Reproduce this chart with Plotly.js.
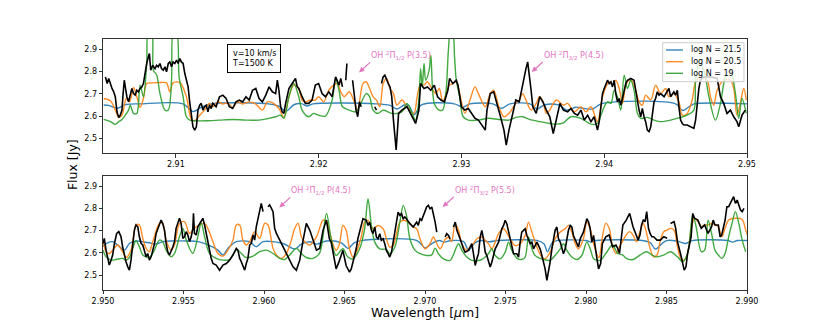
<!DOCTYPE html>
<html>
<head>
<meta charset="utf-8">
<script src="https://cdn.plot.ly/plotly-3.0.1.min.js"></script>
<style>
  html, body { margin: 0; padding: 0; background: #fff; }
  #chart { width: 830px; height: 332px; }
</style>
</head>
<body>
<div id="chart"></div>
<script>
// spectrum.js -- observed flux vs. slab models, two wavelength windows

// ---- top window (2.905 - 2.950 um), [wavelength, flux] ----
const obsTop = [
  [2.90507,2.776],[2.90519,2.746],[2.9053,2.769],[2.90542,2.739],[2.90553,2.724],[2.90565,2.709],[2.90576,2.687],[2.90588,2.619],[2.906,2.594],[2.90611,2.604],
  [2.90623,2.627],[2.9063,2.694],[2.90639,2.761],[2.90648,2.724],[2.90657,2.687],[2.90669,2.664],[2.90681,2.694],[2.90692,2.724],[2.90704,2.701],[2.90715,2.694],
  [2.90727,2.716],[2.90738,2.709],[2.9075,2.724],[2.90762,2.731],[2.90773,2.746],[2.90785,2.806],[2.90796,2.836],[2.90808,2.866],[2.90815,2.881],[2.90824,2.806],
  [2.90838,2.828],[2.90854,2.813],[2.90866,2.828],[2.90877,2.821],[2.90889,2.836],[2.909,2.813],[2.90912,2.806],[2.90924,2.821],[2.90935,2.799],[2.90947,2.836],
  [2.90958,2.843],[2.9097,2.821],[2.90981,2.843],[2.90993,2.836],[2.91005,2.851],[2.91016,2.836],[2.91028,2.858],[2.91039,2.843],[2.91051,2.836],[2.91063,2.791],
  [2.91074,2.761],[2.91086,2.731],[2.91097,2.664],[2.91109,2.612],[2.9112,2.552],[2.91132,2.537],[2.91144,2.552],[2.91155,2.627],[2.91167,2.649],[2.91178,2.657],
  [2.9119,2.627],[2.91201,2.642],[2.91213,2.649],[2.91225,2.619],[2.91236,2.649],[2.91248,2.634],[2.91259,2.657],[2.91282,2.642],[2.91306,2.687],[2.91329,2.694],
  [2.91352,2.679],[2.91375,2.642],[2.91398,2.634],[2.91421,2.664],[2.91444,2.672],[2.91468,2.664],[2.91491,2.687],[2.91514,2.672],[2.91537,2.716],[2.9156,2.724],
  [2.91583,2.679],[2.91606,2.664],[2.9163,2.694],[2.91653,2.731],[2.91676,2.709],[2.91699,2.701],[2.91711,2.761],[2.91722,2.716],[2.91734,2.642],[2.91745,2.619],
  [2.91757,2.612],[2.91769,2.657],[2.91792,2.724],[2.91815,2.746],[2.91838,2.769],[2.9185,2.731],[2.91861,2.724],[2.91884,2.687],[2.91907,2.657],[2.91931,2.657],
  [2.91954,2.672],[2.91977,2.739],[2.92,2.746],[2.92024,2.701],[2.92048,2.687],[2.92071,2.709],[2.92095,2.687],[2.92119,2.776],[2.92143,2.739],[2.92155,2.769],
  [2.92167,2.731],[2.92178,null],[2.9219,2.761],[2.92198,2.836],[2.9221,null],[2.92238,2.761],[2.9225,2.701],[2.92262,2.627],[2.92274,2.597],[2.92286,2.664],
  [2.92298,2.642],[2.9231,null],[2.92393,2.642],[2.92405,2.627],[2.9242,null],[2.9244,2.746],[2.92452,2.776],[2.92464,2.784],[2.92476,2.761],[2.92488,2.746],
  [2.925,2.731],[2.92512,2.687],[2.92524,2.582],[2.92543,2.448],[2.9256,2.612],[2.92583,2.627],[2.92619,2.642],[2.92655,2.597],[2.92679,2.567],[2.92702,2.627],
  [2.92714,2.746],[2.92738,2.724],[2.92762,2.731],[2.92786,2.716],[2.9281,2.739],[2.92833,2.687],[2.92857,2.672],[2.92881,2.664],[2.92905,2.716],[2.92917,2.769],
  [2.9294,2.746],[2.92964,2.761],[2.92976,2.739],[2.93,2.642],[2.93024,2.627],[2.93048,2.634],[2.93071,2.612],[2.93095,2.59],[2.93119,2.582],[2.93143,2.56],
  [2.93167,2.537],[2.93179,2.627],[2.93202,2.701],[2.93226,2.709],[2.9325,2.657],[2.93274,2.597],[2.93298,2.537],[2.93314,2.47],[2.93333,2.537],[2.93357,2.604],
  [2.93381,2.672],[2.93405,2.664],[2.93429,2.746],[2.93452,2.813],[2.93464,2.843],[2.93476,2.791],[2.93488,2.716],[2.935,2.642],[2.93524,2.612],[2.93548,2.687],
  [2.93571,2.664],[2.93595,2.627],[2.93619,2.597],[2.93643,2.522],[2.93667,2.597],[2.9369,2.657],[2.93714,2.627],[2.93744,2.619],[2.93767,2.634],[2.93791,2.612],
  [2.93814,2.604],[2.93837,2.627],[2.9386,2.582],[2.93884,2.604],[2.93907,2.575],[2.9393,2.597],[2.93953,2.537],[2.93965,2.575],[2.93977,2.642],[2.93988,2.701],
  [2.94,2.724],[2.94012,2.746],[2.94023,2.761],[2.94035,2.746],[2.94047,2.754],[2.94058,2.731],[2.9407,2.761],[2.94081,2.701],[2.94093,2.664],[2.94105,2.679],
  [2.94116,2.649],[2.94128,2.679],[2.9414,2.724],[2.94151,2.746],[2.94163,2.761],[2.94186,2.769],[2.94209,2.761],[2.94221,2.716],[2.94233,2.657],[2.94244,2.627],
  [2.94256,2.597],[2.94267,2.634],[2.94279,2.597],[2.9429,2.575],[2.94302,2.537],[2.94314,2.53],[2.94326,2.552],[2.94337,2.612],[2.94349,2.664],[2.9436,2.679],
  [2.94372,2.709],[2.94384,2.694],[2.94395,2.701],[2.94419,2.687],[2.94442,2.709],[2.94453,2.724],[2.94465,2.687],[2.94488,2.709],[2.945,2.694],[2.94512,2.716],
  [2.94523,2.642],[2.94535,2.582],[2.94547,2.567],[2.94558,2.56],[2.94581,2.56],[2.94605,2.552],[2.94628,2.545],[2.9464,2.582],[2.94651,2.657],[2.94663,2.724],
  [2.94674,2.761],[2.94698,2.776],[2.94744,2.776],[2.94791,2.769],[2.94814,2.687],[2.94837,2.657],[2.9486,2.612],[2.94884,2.627],[2.94907,2.597],[2.9493,2.575],
  [2.94942,2.552],[2.94953,2.582],[2.94965,2.604],[2.94988,2.627]
];

const n215Top = [
  [2.90495,2.65],[2.9053,2.648],[2.9059,2.635],[2.9065,2.652],[2.9075,2.655],[2.9105,2.655],[2.9112,2.62],[2.9118,2.64],[2.9125,2.655],[2.9165,2.655],
  [2.9172,2.645],[2.9177,2.622],[2.9183,2.652],[2.9188,2.656],[2.9192,2.645],[2.9196,2.655],[2.924,2.655],[2.925,2.648],[2.9255,2.632],[2.926,2.65],
  [2.9263,2.648],[2.9267,2.607],[2.9272,2.65],[2.9295,2.655],[2.9301,2.64],[2.9306,2.655],[2.9322,2.655],[2.9328,2.635],[2.9334,2.655],[2.9348,2.655],
  [2.9353,2.632],[2.9358,2.65],[2.9368,2.65],[2.9374,2.627],[2.938,2.64],[2.9385,2.635],[2.9392,2.632],[2.9398,2.655],[2.945,2.655],[2.9455,2.625],
  [2.946,2.645],[2.9463,2.655],[2.95,2.655]
];

const n205Top = [
  [2.90495,2.679],[2.90542,2.669],[2.90576,2.627],[2.906,2.594],[2.90623,2.604],[2.90653,2.679],[2.90676,2.664],[2.90704,2.728],[2.90727,2.687],[2.9075,2.639],
  [2.90773,2.679],[2.90796,2.746],[2.90831,2.749],[2.909,2.751],[2.90935,2.749],[2.90958,2.709],[2.90981,2.749],[2.91028,2.751],[2.91074,2.687],[2.91109,2.585],
  [2.91132,2.579],[2.91167,2.604],[2.91201,2.627],[2.91236,2.657],[2.91259,2.642],[2.91294,2.664],[2.91329,2.654],[2.91363,2.66],[2.91398,2.639],[2.91433,2.664],
  [2.91468,2.654],[2.91514,2.664],[2.9156,2.654],[2.91606,2.627],[2.91641,2.664],[2.91676,2.66],[2.91722,2.634],[2.91757,2.594],[2.91792,2.687],[2.91826,2.739],
  [2.91861,2.724],[2.91884,2.672],[2.91907,2.664],[2.91942,2.672],[2.91977,2.672],[2.92,2.687],[2.92036,2.664],[2.92071,2.716],[2.92107,2.739],[2.92131,2.746],
  [2.92155,2.709],[2.92179,2.687],[2.92214,2.709],[2.9225,2.664],[2.92274,2.627],[2.9231,2.746],[2.92333,2.754],[2.92357,2.724],[2.92381,2.687],[2.92405,2.672],
  [2.92429,2.642],[2.92452,2.746],[2.92476,2.769],[2.925,2.724],[2.92524,2.701],[2.92548,2.649],[2.92583,2.672],[2.92619,2.642],[2.92667,2.612],[2.9269,2.687],
  [2.92714,2.746],[2.92738,2.739],[2.92762,2.754],[2.92786,2.731],[2.92821,2.701],[2.92845,2.724],[2.92869,2.664],[2.92893,2.701],[2.92917,2.739],[2.9294,2.746],
  [2.92964,2.754],[2.92988,2.701],[2.93024,2.612],[2.9306,2.672],[2.93095,2.731],[2.93119,2.701],[2.93167,2.642],[2.93202,2.701],[2.93226,2.716],[2.93262,2.642],
  [2.93298,2.597],[2.93333,2.612],[2.93381,2.657],[2.93405,2.672],[2.93429,2.701],[2.93452,2.672],[2.93488,2.627],[2.93524,2.657],[2.93548,2.687],[2.93571,2.664],
  [2.93595,2.612],[2.93619,2.627],[2.93643,2.657],[2.93667,2.672],[2.93714,2.649],[2.93744,2.657],[2.93791,2.619],[2.93837,2.642],[2.93872,2.619],[2.93907,2.642],
  [2.93953,2.575],[2.93988,2.687],[2.94012,2.731],[2.94035,2.754],[2.94058,2.739],[2.94081,2.761],[2.94105,2.724],[2.94128,2.657],[2.94151,2.739],[2.94174,2.761],
  [2.94198,2.754],[2.94221,2.716],[2.94244,2.664],[2.94267,2.649],[2.9429,2.694],[2.94326,2.672],[2.9436,2.739],[2.94395,2.701],[2.9443,2.724],[2.94453,2.687],
  [2.94488,2.701],[2.94523,2.664],[2.94547,2.604],[2.94581,2.612],[2.94616,2.672],[2.9464,2.754],[2.94674,2.776],[2.94721,2.761],[2.94744,2.687],[2.94767,2.649],
  [2.94791,2.716],[2.94837,2.761],[2.94884,2.761],[2.94907,2.724],[2.9493,2.604],[2.94953,2.657],[2.94977,2.724],[2.94995,2.672]
];

const n19Top = [
  [2.90495,2.585],[2.90542,2.575],[2.90576,2.563],[2.906,2.575],[2.90623,2.585],[2.90646,2.604],[2.90669,2.627],[2.90681,2.649],[2.90704,2.612],[2.90727,2.612],
  [2.9075,2.739],[2.90773,2.687],[2.90796,2.836],[2.90808,2.98],[2.90831,2.98],[2.90843,2.806],[2.90866,2.784],[2.90889,2.701],[2.90924,2.627],[2.90947,2.627],
  [2.9097,2.761],[2.90984,2.98],[2.91005,2.98],[2.91023,2.776],[2.91051,2.687],[2.91074,2.597],[2.91097,2.582],[2.91144,2.579],[2.91213,2.579],[2.91306,2.582],
  [2.91398,2.585],[2.91491,2.582],[2.91583,2.582],[2.91653,2.59],[2.91699,2.597],[2.91734,2.604],[2.91757,2.59],[2.91792,2.687],[2.91826,2.746],[2.91861,2.687],
  [2.91884,2.627],[2.91931,2.597],[2.91965,2.612],[2.92,2.604],[2.92048,2.6],[2.92095,2.672],[2.92119,2.769],[2.92143,2.716],[2.92167,2.642],[2.92214,2.627],
  [2.92262,2.619],[2.92286,2.642],[2.92333,2.701],[2.92357,2.687],[2.92381,2.627],[2.92417,2.612],[2.92452,2.627],[2.92512,2.612],[2.92583,2.619],[2.92619,2.657],
  [2.92655,2.612],[2.92679,2.582],[2.92702,2.672],[2.92714,2.813],[2.92726,2.731],[2.92738,2.836],[2.9275,2.761],[2.92774,2.806],[2.92786,2.873],[2.9281,2.657],
  [2.92845,2.627],[2.92869,2.627],[2.92893,2.716],[2.92909,2.896],[2.92924,2.98],[2.92938,2.98],[2.92952,2.866],[2.92964,2.761],[2.92988,2.687],[2.93012,2.597],
  [2.93048,2.582],[2.93119,2.582],[2.9319,2.59],[2.93262,2.585],[2.93333,2.582],[2.93381,2.594],[2.93429,2.597],[2.93476,2.585],[2.93548,2.575],[2.93619,2.567],
  [2.93667,2.564],[2.93714,2.57],[2.93767,2.597],[2.93837,2.59],[2.93907,2.564],[2.93953,2.567],[2.93977,2.604],[2.94,2.642],[2.94023,2.664],[2.94047,2.657],
  [2.9407,2.716],[2.94093,2.687],[2.94116,2.627],[2.9414,2.784],[2.94163,2.724],[2.94186,2.761],[2.94209,2.716],[2.94233,2.612],[2.94256,2.59],[2.94302,2.594],
  [2.94349,2.582],[2.94395,2.575],[2.94465,2.582],[2.94535,2.594],[2.94581,2.604],[2.94628,2.627],[2.9464,2.761],[2.94663,2.836],[2.94698,2.806],[2.94733,2.687],
  [2.94779,2.582],[2.94814,2.657],[2.94849,2.776],[2.94884,2.806],[2.94919,2.701],[2.94942,2.59],[2.94965,2.679],[2.94995,2.612]
];

// ---- bottom window (2.950 - 2.990 um) ----
const obsBot = [
  [2.95,2.642],[2.95008,2.665],[2.95019,2.612],[2.95029,2.575],[2.95039,2.545],[2.9505,2.567],[2.9506,2.59],[2.95071,2.642],[2.95085,2.687],[2.95098,2.695],
  [2.95112,2.672],[2.95122,2.627],[2.95133,2.59],[2.95143,2.56],[2.95154,2.537],[2.95164,2.522],[2.95174,2.567],[2.95185,2.642],[2.95195,2.702],[2.95205,2.725],
  [2.95216,2.717],[2.95226,2.672],[2.95237,2.642],[2.95247,2.635],[2.95257,2.612],[2.95268,2.582],[2.95278,2.597],[2.95288,2.567],[2.95299,2.582],[2.95309,2.612],
  [2.9532,2.642],[2.9533,2.687],[2.95351,2.725],[2.95361,2.747],[2.95371,2.732],[2.95382,2.702],[2.95392,2.642],[2.95402,2.605],[2.95413,2.59],[2.95423,2.605],
  [2.95434,2.627],[2.95444,2.65],[2.95454,2.71],[2.95475,2.755],[2.95485,2.732],[2.95496,2.665],[2.95506,2.672],[2.95517,2.695],[2.95527,2.68],[2.95537,2.65],
  [2.95548,2.672],[2.95558,2.71],[2.95562,2.777],[2.95568,2.687],[2.95579,2.68],[2.95589,2.717],[2.956,2.732],[2.9561,2.747],[2.9562,2.755],[2.95631,2.725],
  [2.95641,2.687],[2.95651,2.642],[2.95662,2.597],[2.95672,2.575],[2.95683,2.552],[2.95703,2.545],[2.95724,2.522],[2.95745,2.545],[2.95766,2.552],[2.95786,2.567],
  [2.95807,2.59],[2.95817,2.605],[2.95828,2.62],[2.95838,2.612],[2.95849,2.575],[2.95859,2.56],[2.95869,2.537],[2.9588,2.522],[2.9589,2.552],[2.959,2.575],
  [2.95911,2.635],[2.95921,2.642],[2.95932,2.68],[2.95942,2.657],[2.95952,2.717],[2.95963,2.755],[2.95973,2.777],[2.95983,2.822],[2.95994,2.785],[2.96005,null],
  [2.96025,2.807],[2.96035,2.815],[2.96046,2.8],[2.96056,2.785],[2.96066,2.71],[2.96077,2.687],[2.96098,2.657],[2.96129,2.612],[2.96149,2.582],[2.9618,2.537],
  [2.96201,2.522],[2.96222,2.567],[2.96243,2.657],[2.96263,2.732],[2.96284,2.702],[2.96305,2.657],[2.96326,2.612],[2.96346,2.62],[2.96367,2.702],[2.96388,2.747],
  [2.96406,2.663],[2.96417,2.648],[2.96427,2.603],[2.96438,2.573],[2.96448,2.528],[2.96465,2.558],[2.96479,2.588],[2.9649,2.611],[2.9651,2.543],[2.96531,2.513],
  [2.96542,2.528],[2.96552,2.558],[2.96563,2.588],[2.96573,2.618],[2.96583,2.663],[2.96594,2.701],[2.96604,2.723],[2.96615,2.753],[2.96635,2.746],[2.96646,2.723],
  [2.96656,2.738],[2.96667,2.701],[2.96677,2.686],[2.96688,2.716],[2.96698,2.671],[2.96708,2.663],[2.96719,2.686],[2.96729,2.656],[2.9674,2.663],[2.9675,2.641],
  [2.9676,2.611],[2.96771,2.596],[2.96781,2.581],[2.96792,2.603],[2.96802,2.648],[2.96813,2.693],[2.96823,2.738],[2.96833,2.783],[2.96844,2.768],[2.96854,2.776],
  [2.96865,2.753],[2.96875,2.761],[2.96885,2.753],[2.96906,2.731],[2.96927,2.716],[2.96948,2.738],[2.96958,2.723],[2.96969,2.753],[2.96979,2.746],[2.9699,2.768],
  [2.97,2.791],[2.9701,2.806],[2.97021,2.813],[2.97031,2.798],[2.97042,2.806],[2.97052,2.776],[2.97063,2.738],[2.97073,2.693],[2.971,null],[2.97125,2.671],
  [2.97135,2.686],[2.97146,2.678],[2.97156,2.663],[2.97166,null],[2.97177,2.716],[2.97188,2.738],[2.97198,2.701],[2.97208,2.678],[2.97218,2.663],[2.97239,2.618],
  [2.97249,2.603],[2.9727,2.611],[2.97291,2.641],[2.97301,2.596],[2.97312,2.543],[2.97322,2.573],[2.97332,2.596],[2.97343,2.671],[2.97353,2.701],[2.97363,2.663],
  [2.97374,2.603],[2.97384,2.588],[2.97394,2.558],[2.97405,2.536],[2.97415,2.558],[2.97436,2.618],[2.97457,2.648],[2.97477,2.708],[2.97488,2.723],[2.97498,2.746],
  [2.97508,2.731],[2.97519,2.693],[2.97529,2.663],[2.97539,2.618],[2.9755,2.596],[2.9757,2.596],[2.97581,2.581],[2.97591,2.648],[2.97601,2.693],[2.97612,2.701],
  [2.97622,2.708],[2.97633,2.678],[2.97643,2.656],[2.97653,2.641],[2.97664,2.648],[2.97674,2.618],[2.97695,2.648],[2.97705,2.633],[2.97715,2.618],[2.97726,2.588],
  [2.97736,2.558],[2.97746,2.528],[2.97757,2.476],[2.97767,2.513],[2.97777,2.558],[2.97788,2.618],[2.97798,2.671],[2.97808,2.701],[2.97819,2.716],[2.97829,2.663],
  [2.9784,2.648],[2.9785,2.618],[2.9786,2.596],[2.97871,2.618],[2.97881,2.656],[2.97891,2.701],[2.97902,2.723],[2.97912,2.716],[2.97922,2.678],[2.97943,2.641],
  [2.97953,2.626],[2.97964,2.663],[2.97984,2.693],[2.98005,2.753],[2.98016,2.738],[2.98026,2.708],[2.98036,2.648],[2.98047,2.678],[2.98057,2.618],[2.98068,2.573],
  [2.98078,2.528],[2.98091,2.552],[2.98102,2.642],[2.98123,2.672],[2.98144,2.68],[2.98165,2.627],[2.98186,2.635],[2.98197,2.62],[2.98208,2.597],[2.98229,2.725],
  [2.9825,2.747],[2.98271,2.777],[2.98292,2.717],[2.98314,2.672],[2.98324,2.657],[2.98335,2.68],[2.98345,2.725],[2.98356,2.747],[2.98367,2.74],[2.98377,2.785],
  [2.98388,2.71],[2.98398,2.687],[2.98409,2.672],[2.9842,2.672],[2.98441,2.657],[2.98462,2.657],[2.98483,2.672],[2.98504,2.665],[2.98515,null],[2.98525,2.732],
  [2.98547,2.74],[2.98557,2.71],[2.98568,2.65],[2.98589,2.59],[2.986,2.56],[2.9861,2.522],[2.98621,2.537],[2.98631,2.597],[2.98653,2.672],[2.98663,2.777],
  [2.98674,2.755],[2.98695,2.747],[2.98716,2.71],[2.98737,2.725],[2.98758,2.687],[2.9878,2.717],[2.9879,2.747],[2.98801,2.725],[2.98822,2.725],[2.98833,2.672],
  [2.98843,2.68],[2.98864,2.747],[2.98875,2.807],[2.98886,2.807],[2.98896,2.822],[2.98907,2.837],[2.98917,2.852],[2.98928,2.822],[2.98939,2.837],[2.98949,2.815],
  [2.9896,2.792],[2.9897,2.785],[2.98981,2.8]
];

const n215Bot = [
  [2.95,2.63],[2.95029,2.645],[2.9506,2.65],[2.95091,2.635],[2.95133,2.612],[2.95164,2.642],[2.95205,2.653],[2.95247,2.65],[2.95288,2.645],[2.9533,2.639],
  [2.95371,2.65],[2.95434,2.653],[2.95537,2.653],[2.95589,2.65],[2.95641,2.639],[2.95714,2.612],[2.95745,2.59],[2.95776,2.62],[2.95828,2.65],[2.95911,2.65],
  [2.95952,2.627],[2.95994,2.65],[2.96118,2.642],[2.96191,2.617],[2.96232,2.639],[2.96284,2.65],[2.96326,2.639],[2.96388,2.653],[2.9648,2.645],[2.96521,2.62],
  [2.9656,2.645],[2.966,2.655],[2.9695,2.655],[2.97,2.622],[2.9705,2.645],[2.9709,2.655],[2.9712,2.648],[2.9716,2.655],[2.9724,2.65],[2.9727,2.612],
  [2.9731,2.645],[2.9735,2.655],[2.974,2.65],[2.9745,2.655],[2.977,2.655],[2.9774,2.64],[2.9776,2.605],[2.9779,2.645],[2.9782,2.655],[2.98,2.655],
  [2.9803,2.648],[2.9806,2.655],[2.9835,2.655],[2.984,2.645],[2.9843,2.617],[2.9847,2.64],[2.985,2.655],[2.9857,2.652],[2.9862,2.642],[2.9866,2.655],
  [2.9888,2.655],[2.9891,2.648],[2.9894,2.655],[2.99,2.655]
];

const n205Bot = [
  [2.95,2.657],[2.95019,2.605],[2.95039,2.597],[2.9506,2.612],[2.95091,2.635],[2.95122,2.605],[2.95143,2.579],[2.95174,2.612],[2.95205,2.725],[2.95226,2.725],
  [2.95247,2.665],[2.95268,2.62],[2.95288,2.605],[2.95309,2.65],[2.95351,2.732],[2.95371,2.732],[2.95392,2.657],[2.95423,2.612],[2.95444,2.635],[2.95475,2.732],
  [2.95506,2.74],[2.95537,2.687],[2.95568,2.71],[2.956,2.725],[2.95631,2.732],[2.95651,2.71],[2.95683,2.65],[2.95714,2.597],[2.95745,2.585],[2.95776,2.612],
  [2.95807,2.657],[2.95828,2.725],[2.95849,2.725],[2.95869,2.657],[2.9589,2.635],[2.95911,2.65],[2.95942,2.695],[2.95973,2.665],[2.96004,2.732],[2.96025,2.725],
  [2.96056,2.62],[2.96077,2.59],[2.96108,2.575],[2.96139,2.597],[2.9617,2.657],[2.96191,2.71],[2.96212,2.732],[2.96232,2.672],[2.96253,2.65],[2.96284,2.635],
  [2.96326,2.672],[2.96367,2.747],[2.96388,2.74],[2.96427,2.641],[2.96448,2.611],[2.96469,2.641],[2.9649,2.723],[2.9651,2.701],[2.96531,2.618],[2.96552,2.581],
  [2.96573,2.603],[2.96604,2.671],[2.96625,2.738],[2.96646,2.746],[2.96677,2.708],[2.96708,2.723],[2.9674,2.708],[2.9676,2.663],[2.96781,2.626],[2.96802,2.633],
  [2.96823,2.686],[2.96844,2.738],[2.96865,2.746],[2.96896,2.738],[2.96927,2.716],[2.96948,2.708],[2.96969,2.663],[2.97,2.618],[2.97031,2.641],[2.97052,2.671],
  [2.97073,2.641],[2.97094,2.618],[2.97125,2.66],[2.97146,2.67],[2.97165,2.65],[2.97187,2.731],[2.97208,2.701],[2.97229,2.641],[2.9726,2.611],[2.97281,2.626],
  [2.97301,2.641],[2.97322,2.663],[2.97353,2.671],[2.97374,2.656],[2.97394,2.641],[2.97415,2.618],[2.97436,2.648],[2.97457,2.686],[2.97488,2.708],[2.97529,2.663],
  [2.9756,2.633],[2.97591,2.641],[2.97622,2.678],[2.97643,2.738],[2.97664,2.693],[2.97695,2.626],[2.97726,2.581],[2.97746,2.573],[2.97777,2.603],[2.97808,2.663],
  [2.9784,2.693],[2.97871,2.708],[2.97891,2.723],[2.97912,2.693],[2.97933,2.641],[2.97953,2.618],[2.97984,2.663],[2.98005,2.738],[2.98026,2.708],[2.98047,2.641],
  [2.9808,2.578],[2.98102,2.672],[2.98123,2.732],[2.98144,2.71],[2.98165,2.627],[2.98186,2.597],[2.98208,2.627],[2.9825,2.68],[2.98271,2.695],[2.98292,2.68],
  [2.98314,2.65],[2.98335,2.695],[2.98356,2.732],[2.98377,2.687],[2.98398,2.62],[2.9842,2.582],[2.98441,2.59],[2.98462,2.657],[2.98483,2.695],[2.98504,2.702],
  [2.98525,2.71],[2.98547,2.702],[2.98568,2.627],[2.98589,2.575],[2.9861,2.567],[2.98631,2.597],[2.98653,2.702],[2.98674,2.755],[2.98695,2.74],[2.98716,2.717],
  [2.98737,2.725],[2.98758,2.725],[2.9878,2.732],[2.98801,2.725],[2.98822,2.717],[2.98843,2.672],[2.98864,2.71],[2.98886,2.747],[2.98928,2.755],[2.9897,2.75],
  [2.98992,2.702],[2.99013,2.657]
];

const n19Bot = [
  [2.95,2.612],[2.95019,2.582],[2.9505,2.567],[2.95081,2.57],[2.95122,2.575],[2.95143,2.567],[2.95164,2.579],[2.95185,2.62],[2.95205,2.654],[2.95226,2.627],
  [2.95247,2.59],[2.95268,2.582],[2.95288,2.579],[2.95309,2.597],[2.95351,2.657],[2.95371,2.65],[2.95392,2.612],[2.95423,2.582],[2.95444,2.597],[2.95475,2.672],
  [2.95496,2.71],[2.95517,2.657],[2.95558,2.597],[2.95589,2.672],[2.9561,2.735],[2.95631,2.672],[2.95662,2.597],[2.95703,2.575],[2.95745,2.567],[2.95786,2.57],
  [2.95828,2.612],[2.95849,2.605],[2.95869,2.59],[2.9589,2.579],[2.95932,2.585],[2.95973,2.605],[2.96015,2.612],[2.96056,2.597],[2.96098,2.575],[2.96129,2.57],
  [2.9616,2.59],[2.96201,2.62],[2.96232,2.597],[2.96263,2.579],[2.96305,2.575],[2.96346,2.6],[2.96388,2.777],[2.96417,2.663],[2.96448,2.588],[2.9649,2.618],
  [2.96521,2.581],[2.96552,2.573],[2.96594,2.618],[2.96625,2.708],[2.96646,2.843],[2.96667,2.723],[2.96688,2.648],[2.96719,2.618],[2.9676,2.615],[2.96781,2.596],
  [2.96813,2.626],[2.96844,2.738],[2.96865,2.813],[2.96885,2.768],[2.96906,2.663],[2.96938,2.611],[2.96969,2.596],[2.9701,2.588],[2.97042,2.591],[2.97063,2.621],
  [2.97083,2.596],[2.97115,2.573],[2.97156,2.566],[2.97208,2.641],[2.97229,2.611],[2.9726,2.581],[2.97291,2.566],[2.97353,2.57],[2.97394,2.596],[2.97415,2.618],
  [2.97436,2.588],[2.97467,2.573],[2.97498,2.603],[2.97519,2.648],[2.97539,2.611],[2.9757,2.576],[2.97601,2.57],[2.97622,2.581],[2.97643,2.671],[2.97664,2.618],
  [2.97684,2.588],[2.97736,2.57],[2.97777,2.566],[2.97808,2.588],[2.9784,2.618],[2.9786,2.641],[2.97881,2.611],[2.97912,2.581],[2.97943,2.57],[2.97974,2.588],
  [2.98005,2.648],[2.98026,2.618],[2.98047,2.573],[2.98068,2.566],[2.98091,2.567],[2.98123,2.597],[2.98165,2.635],[2.98197,2.597],[2.98229,2.59],[2.9825,2.575],
  [2.98292,2.57],[2.98335,2.59],[2.98377,2.605],[2.98409,2.59],[2.98441,2.582],[2.98483,2.59],[2.98525,2.605],[2.98568,2.582],[2.986,2.56],[2.98631,2.597],
  [2.98663,2.77],[2.98684,2.717],[2.98716,2.605],[2.98737,2.612],[2.98758,2.747],[2.9878,2.687],[2.98801,2.612],[2.98822,2.59],[2.98843,2.575],[2.98864,2.597],
  [2.98886,2.672],[2.98907,2.732],[2.98928,2.785],[2.98949,2.732],[2.9897,2.657],[2.98992,2.605]
];

const topTicks = [2.91, 2.92, 2.93, 2.94, 2.95];
const botTicks = [2.950, 2.955, 2.960, 2.965, 2.970, 2.975, 2.980, 2.985, 2.990];
const fluxTicks = [2.5, 2.6, 2.7, 2.8, 2.9];

// line labels, [text, wavelength, flux] of the arrow tip
const linesTop = [
  ['OH <sup>2</sup>Π<sub>1/2</sub> P(3.5)', 2.92283, 2.796],
  ['OH <sup>2</sup>Π<sub>3/2</sub> P(4.5)', 2.93493, 2.798],
];
const linesBot = [
  ['OH <sup>2</sup>Π<sub>1/2</sub> P(4.5)', 2.96095, 2.804],
  ['OH <sup>2</sup>Π<sub>3/2</sub> P(5.5)', 2.9711, 2.806],
];

const legendNames = ['log N = 21.5', 'log N = 20.5', 'log N = 19'];
const COLORS = ['#1f77b4', '#ff7f0e', '#2ca02c'];
const PINK = '#e377c2';

function model(pts, xa, ya, color) {
  return {
    x: pts.map(p => p[0]), y: pts.map(p => p[1]),
    xaxis: xa, yaxis: ya, type: 'scatter', mode: 'lines', opacity: 0.9,
    line: { color: color, width: 1.4, shape: 'spline', smoothing: 0.9 },
    showlegend: false, hoverinfo: 'skip',
  };
}

function observed(pts, xa, ya) {
  return {
    x: pts.map(p => p[0]), y: pts.map(p => p[1]),
    xaxis: xa, yaxis: ya, type: 'scatter', mode: 'lines',
    line: { color: '#000', width: 1.6 }, connectgaps: false,
    showlegend: false, hoverinfo: 'skip',
  };
}

const data = [
  model(n215Top, 'x', 'y', COLORS[0]),
  model(n205Top, 'x', 'y', COLORS[1]),
  model(n19Top, 'x', 'y', COLORS[2]),
  model(n215Bot, 'x2', 'y2', COLORS[0]),
  model(n205Bot, 'x2', 'y2', COLORS[1]),
  model(n19Bot, 'x2', 'y2', COLORS[2]),
  observed(obsTop, 'x', 'y'),
  observed(obsBot, 'x2', 'y2'),
];

const axis = {
  showline: true, linecolor: '#000', linewidth: 0.8, mirror: true,
  ticks: 'outside', ticklen: 3.5, tickwidth: 0.8, tickcolor: '#000',
  showgrid: false, zeroline: false,
  tickfont: { family: 'DejaVu Sans', size: 8, color: '#000' },
};

function lineLabel(l, xr, yr) {
  return {
    text: l[0], x: l[1], y: l[2], xref: xr, yref: yr,
    showarrow: true, arrowhead: 2, arrowsize: 0.9, arrowwidth: 1.2, arrowcolor: PINK,
    ax: 11, ay: -10, xanchor: 'left', yanchor: 'bottom', borderpad: 0,
    font: { size: 8, color: PINK },
  };
}

// hand-made legend box (matplotlib style, compact rows)
const LEG = { x0: 0.8691, x1: 0.9953, y0: 0.8299, y1: 0.9853, lx0: 0.8742, lx1: 0.9006, tx: 0.9099, rows: [0.9562, 0.9096, 0.8633] };
const shapes = [
  {
    type: 'rect', xref: 'paper', yref: 'paper', x0: LEG.x0, x1: LEG.x1, y0: LEG.y0, y1: LEG.y1,
    fillcolor: 'rgba(255,255,255,0.8)', line: { color: '#cccccc', width: 1 }, layer: 'above',
  },
  ...legendNames.map((n, i) => ({
    type: 'line', xref: 'paper', yref: 'paper', x0: LEG.lx0, x1: LEG.lx1, y0: LEG.rows[i], y1: LEG.rows[i],
    line: { color: COLORS[i], width: 1.4 }, opacity: 0.9, layer: 'above',
  })),
];

const annotations = [
  ...linesTop.map(l => lineLabel(l, 'x', 'y')),
  ...linesBot.map(l => lineLabel(l, 'x2', 'y2')),
  ...legendNames.map((n, i) => ({
    text: n, xref: 'paper', yref: 'paper', x: LEG.tx, y: LEG.rows[i],
    xanchor: 'left', yanchor: 'middle', showarrow: false, font: { size: 8, color: '#000' },
  })),
  {
    text: 'v=10 km/s<br>T=1500 K', xref: 'paper', yref: 'paper', x: 0.2345, y: 0.922,
    xanchor: 'center', yanchor: 'middle',
    showarrow: false, align: 'left', bgcolor: '#fff', bordercolor: '#000', borderwidth: 1, borderpad: 4,
    font: { size: 8, color: '#000' },
  },
  {
    text: 'Flux [Jy]', xref: 'paper', yref: 'paper', x: -0.048, y: 0.498, textangle: -90,
    xanchor: 'center', yanchor: 'middle', showarrow: false, font: { size: 12.5, color: '#000' },
  },
  {
    text: 'Wavelength [<i>μ</i>m]', xref: 'paper', yref: 'paper', x: 0.5, y: -0.09,
    xanchor: 'center', yanchor: 'middle', showarrow: false, borderpad: 0,
    font: { size: 12.5, color: '#000' },
  },
];

const layout = {
  width: 830, height: 332,
  margin: { l: 103, r: 83, t: 39, b: 42 },
  paper_bgcolor: '#fff', plot_bgcolor: '#fff',
  font: { family: 'DejaVu Sans', size: 8, color: '#000' },
  showlegend: false,
  xaxis: { ...axis, anchor: 'y', domain: [0, 1], range: [2.9049, 2.95], tickvals: topTicks, tickformat: '.2f' },
  yaxis: { ...axis, anchor: 'x', domain: [0.5446, 1], range: [2.433, 2.946], tickvals: fluxTicks, tickformat: '.1f' },
  xaxis2: { ...axis, anchor: 'y2', domain: [0, 1], range: [2.95, 2.99], tickvals: botTicks, tickformat: '.3f' },
  yaxis2: { ...axis, anchor: 'x2', domain: [0, 0.4542], range: [2.433, 2.945], tickvals: fluxTicks, tickformat: '.1f' },
  shapes: shapes,
  annotations: annotations,
};

Plotly.newPlot('chart', data, layout, { staticPlot: true, displayModeBar: false });
</script>
</body>
</html>
